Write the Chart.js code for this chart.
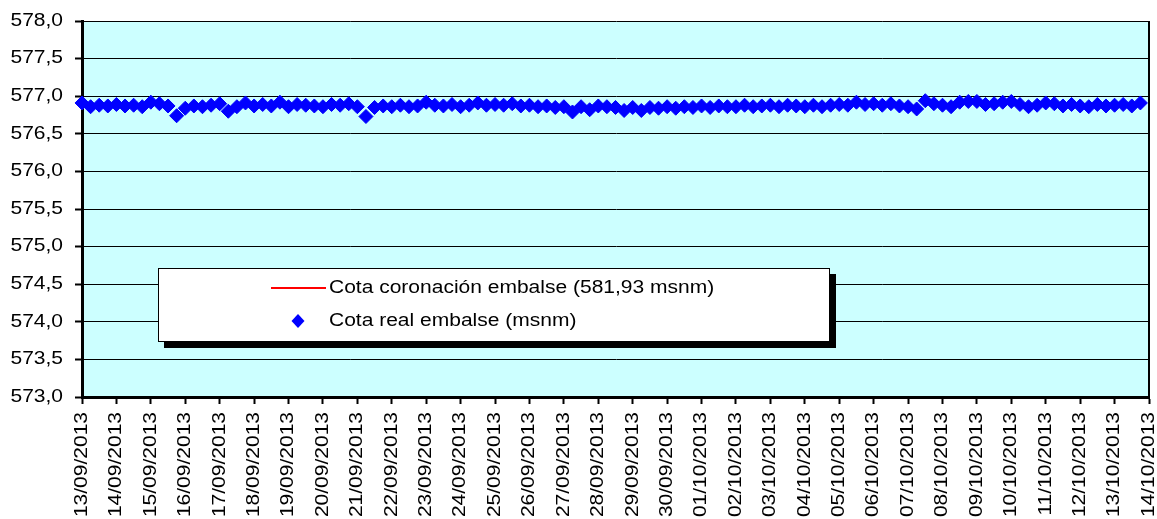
<!DOCTYPE html>
<html>
<head>
<meta charset="utf-8">
<script src="https://cdn.jsdelivr.net/npm/chart.js@4.4.1/dist/chart.umd.min.js"></script>
<style>
html,body{margin:0;padding:0;background:#ffffff;}
#wrap{width:1157px;height:519px;position:relative;}
</style>
</head>
<body>
<div id="wrap"><canvas id="c"></canvas></div>
<script>
// ---- data ----
const dateLabels = [
  "13/09/2013","14/09/2013","15/09/2013","16/09/2013","17/09/2013","18/09/2013",
  "19/09/2013","20/09/2013","21/09/2013","22/09/2013","23/09/2013","24/09/2013",
  "25/09/2013","26/09/2013","27/09/2013","28/09/2013","29/09/2013","30/09/2013",
  "01/10/2013","02/10/2013","03/10/2013","04/10/2013","05/10/2013","06/10/2013",
  "07/10/2013","08/10/2013","09/10/2013","10/10/2013","11/10/2013","12/10/2013",
  "13/10/2013","14/10/2013"
];
const readingsPerDay = 4;
// Cota real embalse (msnm), 4 readings per day from 13/09/2013
const cotaReal = [
  576.91, 576.86, 576.88, 576.87,   // 13/09
  576.89, 576.87, 576.88, 576.86,   // 14/09
  576.92, 576.90, 576.87, 576.74,   // 15/09
  576.84, 576.87, 576.86, 576.88,   // 16/09
  576.90, 576.80, 576.86, 576.91,   // 17/09
  576.87, 576.89, 576.87, 576.92,   // 18/09
  576.86, 576.89, 576.88, 576.87,   // 19/09
  576.86, 576.89, 576.88, 576.90,   // 20/09
  576.86, 576.73, 576.85, 576.87,   // 21/09
  576.86, 576.88, 576.86, 576.87,   // 22/09
  576.92, 576.88, 576.87, 576.89,   // 23/09
  576.86, 576.88, 576.91, 576.88,   // 24/09
  576.89, 576.88, 576.90, 576.87,   // 25/09
  576.88, 576.86, 576.87, 576.85,   // 26/09
  576.86, 576.79, 576.86, 576.82,   // 27/09
  576.87, 576.86, 576.85, 576.81,   // 28/09
  576.85, 576.81, 576.85, 576.84,   // 29/09
  576.86, 576.84, 576.86, 576.85,   // 30/09
  576.87, 576.85, 576.87, 576.86,   // 01/10
  576.86, 576.88, 576.86, 576.87,   // 02/10
  576.88, 576.86, 576.88, 576.87,   // 03/10
  576.86, 576.88, 576.86, 576.88,   // 04/10
  576.89, 576.88, 576.92, 576.89,   // 05/10
  576.90, 576.88, 576.90, 576.87,   // 06/10
  576.86, 576.83, 576.94, 576.90,   // 07/10
  576.88, 576.86, 576.92, 576.93,   // 08/10
  576.93, 576.89, 576.90, 576.92,   // 09/10
  576.93, 576.89, 576.86, 576.88,   // 10/10
  576.91, 576.90, 576.87, 576.89,   // 11/10
  576.87, 576.86, 576.89, 576.87,   // 12/10
  576.88, 576.89, 576.87, 576.91    // 13/10
];
const cotaCoronacion = 581.93;
const seriesNames = ["Cota coronación embalse (581,93 msnm)", "Cota real embalse (msnm)"];
const yMin = 573.0, yMax = 578.0, yStep = 0.5;

// ---- styling helpers ----
const FONT = '17.5px "Liberation Sans", Arial, sans-serif';
const STRETCH = 1.2;
function stretchText(ctx, text, x, y, align, rot) {
  ctx.save();
  ctx.translate(x, y);
  if (rot) ctx.rotate(rot);
  ctx.scale(STRETCH, 1);
  ctx.font = FONT;
  ctx.fillStyle = '#000000';
  ctx.textAlign = align;
  ctx.textBaseline = 'middle';
  ctx.fillText(text, 0, 0);
  ctx.restore();
}
function fmtY(v) { return v.toFixed(1).replace('.', ','); }

const bgPlugin = {
  id: 'bg',
  beforeDraw(chart) {
    const {ctx, chartArea: a} = chart;
    ctx.save();
    ctx.fillStyle = '#CCFFFF';
    ctx.fillRect(a.left, a.top, a.right - a.left, a.bottom - a.top);
    ctx.restore();
  },
  afterDatasetsDraw(chart) {
    const {ctx, chartArea: a} = chart;
    ctx.save();
    ctx.strokeStyle = '#000000';
    ctx.lineWidth = 2;
    ctx.beginPath();
    ctx.moveTo(a.right, a.top);
    ctx.lineTo(a.right, a.bottom);
    ctx.stroke();
    ctx.restore();
  }
};

const labelPlugin = {
  id: 'labels',
  afterDraw(chart) {
    const ctx = chart.ctx;
    const xs = chart.scales.x, ys = chart.scales.y;
    ys.ticks.forEach(t => {
      stretchText(ctx, fmtY(t.value), ys.left - 12, ys.getPixelForValue(t.value), 'right', 0);
    });
    xs.ticks.forEach(t => {
      const lbl = dateLabels[Math.round(t.value / readingsPerDay)];
      if (lbl) stretchText(ctx, lbl, xs.getPixelForValue(t.value), xs.top + 15, 'right', -Math.PI / 2);
    });
  }
};

const legendPlugin = {
  id: 'customLegend',
  afterDraw(chart) {
    const ctx = chart.ctx;
    const bx = 158, by = 268, bw = 672, bh = 74;
    ctx.save();
    ctx.fillStyle = '#000000';
    ctx.fillRect(bx + 6, by + 6, bw, bh);
    ctx.fillStyle = '#ffffff';
    ctx.fillRect(bx, by, bw, bh);
    ctx.strokeStyle = '#000000';
    ctx.lineWidth = 1;
    ctx.strokeRect(bx + 0.5, by + 0.5, bw - 1, bh - 1);
    // entry 1: red line
    ctx.strokeStyle = '#FF0000';
    ctx.lineWidth = 2;
    ctx.beginPath();
    ctx.moveTo(271, 288); ctx.lineTo(326, 288);
    ctx.stroke();
    // entry 2: blue diamond
    ctx.fillStyle = '#0000FF';
    ctx.beginPath();
    ctx.moveTo(298, 321 - 7); ctx.lineTo(298 + 6.5, 321); ctx.lineTo(298, 321 + 7); ctx.lineTo(298 - 6.5, 321);
    ctx.closePath(); ctx.fill();
    ctx.restore();
    stretchText(ctx, seriesNames[0], 329, 288, 'left', 0);
    stretchText(ctx, seriesNames[1], 329, 321, 'left', 0);
  }
};

new Chart(document.getElementById('c'), {
  type: 'scatter',
  data: {
    datasets: [
      {
        type: 'line',
        label: seriesNames[0],
        data: [{x: 0, y: cotaCoronacion}, {x: (dateLabels.length - 1) * readingsPerDay, y: cotaCoronacion}],
        borderColor: '#FF0000',
        borderWidth: 2,
        pointRadius: 0,
        showLine: true
      },
      {
        label: seriesNames[1],
        data: cotaReal.map((v, i) => ({x: i, y: v})),
        pointStyle: 'rectRot',
        pointRadius: 7,
        pointBorderWidth: 1,
        backgroundColor: '#0000FF',
        borderColor: '#0000FF',
        showLine: false,
        clip: false
      }
    ]
  },
  options: {
    responsive: true,
    maintainAspectRatio: false,
    animation: false,
    events: [],
    layout: { autoPadding: false, padding: { left: 75, right: 8, top: 21, bottom: 115 } },
    plugins: { legend: { display: false }, tooltip: { enabled: false } },
    scales: {
      x: {
        type: 'linear',
        min: 0,
        max: (dateLabels.length - 1) * readingsPerDay,
        ticks: { display: false, stepSize: readingsPerDay, autoSkip: false, maxTicksLimit: 1000 },
        grid: { display: true, drawOnChartArea: false, drawTicks: true, tickLength: 7, tickColor: '#000000', tickWidth: 2 },
        border: { display: true, color: '#000000', width: 3 }
      },
      y: {
        min: yMin,
        max: yMax,
        ticks: { display: false, stepSize: yStep },
        grid: { color: '#000000', lineWidth: 1, drawTicks: true, tickLength: 7, tickColor: '#000000', tickWidth: 2 },
        border: { display: true, color: '#000000', width: 3 }
      }
    }
  },
  plugins: [bgPlugin, labelPlugin, legendPlugin]
});
</script>
</body>
</html>
